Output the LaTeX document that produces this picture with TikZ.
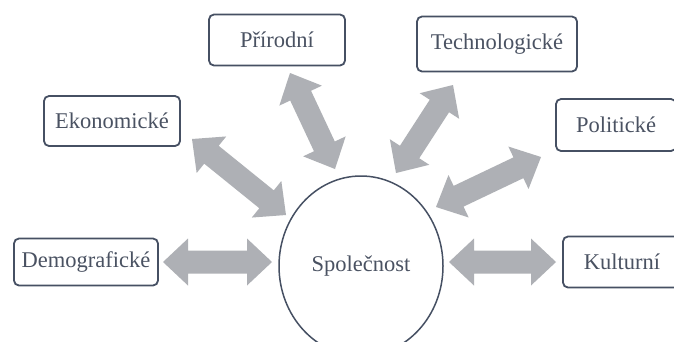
\documentclass[tikz,border=0pt]{standalone}
\usepackage{fontspec}
\setmainfont{Liberation Serif}
\usetikzlibrary{calc,shapes.geometric}

\definecolor{framec}{HTML}{465063}
\definecolor{textc}{HTML}{4A5262}
\definecolor{arrowc}{HTML}{AEB0B5}

% double-headed block arrow between two named coordinates
\newcommand\dblarrow[2]{%
  \fill[arrowc] (#1)
    -- ($(#1)!25pt!(#2)!23.5pt!90:(#2)$)
    -- ($(#1)!25pt!(#2)!11.5pt!90:(#2)$)
    -- ($(#2)!25pt!(#1)!11.5pt!-90:(#1)$)
    -- ($(#2)!25pt!(#1)!23.5pt!-90:(#1)$)
    -- (#2)
    -- ($(#2)!25pt!(#1)!23.5pt!90:(#1)$)
    -- ($(#2)!25pt!(#1)!11.5pt!90:(#1)$)
    -- ($(#1)!25pt!(#2)!11.5pt!-90:(#2)$)
    -- ($(#1)!25pt!(#2)!23.5pt!-90:(#2)$)
    -- cycle;}

\begin{document}
\begin{tikzpicture}[x=1pt,y=-1pt,
  factor/.style={draw=framec, line width=1.8pt, rounded corners=5pt, fill=white,
    text=textc, font=\fontsize{22.5}{24}\selectfont, inner sep=0pt,
    minimum height=51pt},
  society/.style={ellipse, draw=framec, line width=1.5pt, text=textc,
    font=\fontsize{22.5}{24}\selectfont, minimum width=164pt, minimum height=180pt,
    inner sep=0pt}]
\useasboundingbox (0,0) rectangle (674,341);
\fill[white] (0,0) rectangle (674,341);

% central node
\node[society] (soc) at (361,266) {Společnost};

% factor boxes
\node[factor, minimum width=136pt] (prir) at (277,40) {Přírodní};
\node[factor, minimum width=160pt, minimum height=55pt] (tech) at (497,44) {Technologické};
\node[factor, minimum width=136pt, minimum height=50pt] (ekon) at (112,121) {Ekonomické};
\node[factor, minimum width=120pt, minimum height=52pt] (polit) at (616,125) {Politické};
\node[factor, minimum width=144pt, minimum height=47pt] (demo) at (86,262) {Demografické};
\node[factor, minimum width=118pt, minimum height=51pt] (kult) at (622,262) {Kulturní};

% arrow end points
\coordinate (demoA) at (163,262);  \coordinate (demoB) at (272,262);
\coordinate (kultA) at (449,262);  \coordinate (kultB) at (556,262);
\coordinate (ekonA) at (192,139);  \coordinate (ekonB) at (286,215);
\coordinate (prirA) at (290,73);   \coordinate (prirB) at (335,169);
\coordinate (techA) at (453,85);   \coordinate (techB) at (396,173);
\coordinate (politA) at (541,157); \coordinate (politB) at (436,207);

\dblarrow{demoA}{demoB}
\dblarrow{kultA}{kultB}
\dblarrow{ekonA}{ekonB}
\dblarrow{prirA}{prirB}
\dblarrow{techA}{techB}
\dblarrow{politA}{politB}
\end{tikzpicture}
\end{document}
